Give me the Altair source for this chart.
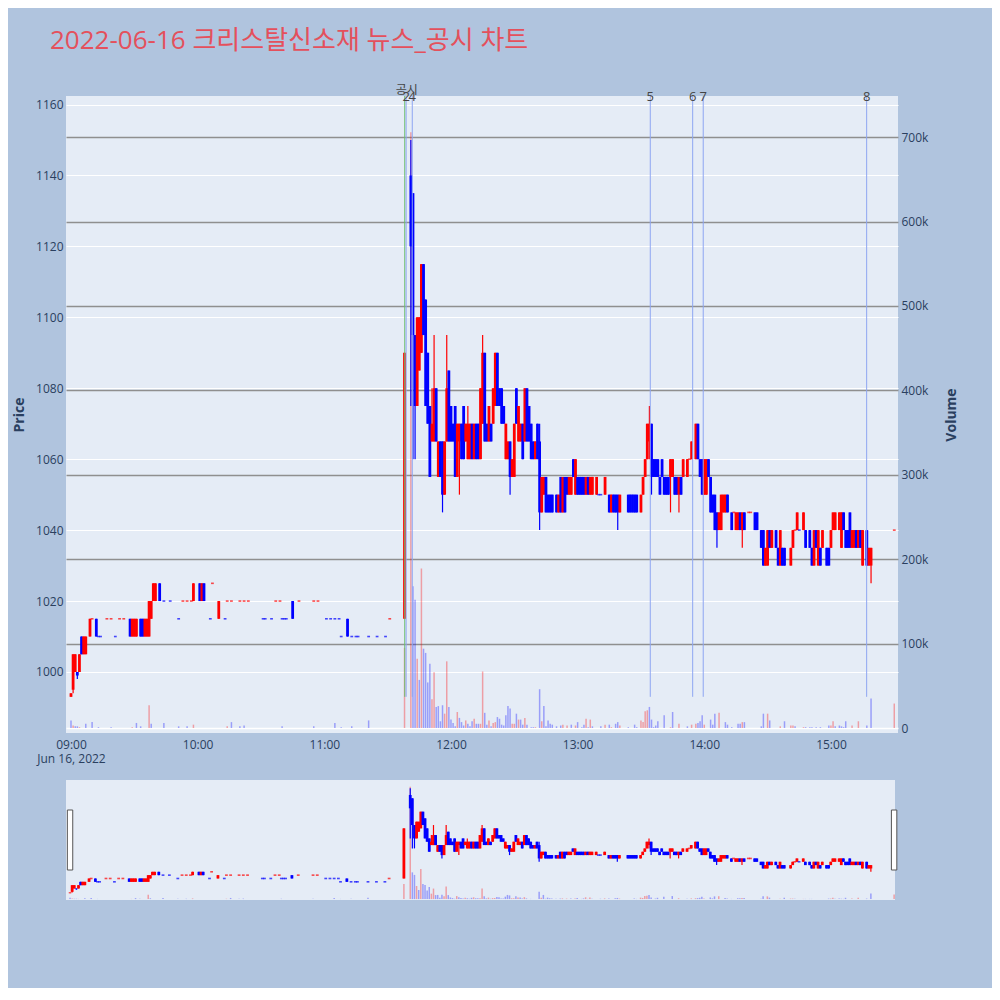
import altair as alt
import pandas as pd

TITLE = "2022-06-16 크리스탈신소재 뉴스_공시 차트"
DAY = (2022, 6, 16)

# (time, open, high, low, close) one-minute candles
candles = [
    ("09:00", 993, 994, 993, 994), ("09:01", 995, 1005, 994, 1005), ("09:02", 1000, 1005, 1000, 1005),
    ("09:03", 1000, 1000, 998, 999), ("09:04", 1000, 1005, 1000, 1005), ("09:05", 1010, 1010, 1005, 1005),
    ("09:06", 1005, 1010, 1005, 1010), ("09:07", 1005, 1010, 1005, 1010), ("09:09", 1010, 1015, 1010, 1015),
    ("09:10", 1015, 1015, 1015, 1015), ("09:12", 1015, 1015, 1010, 1010), ("09:13", 1010, 1010, 1010, 1010),
    ("09:14", 1010, 1010, 1010, 1010), ("09:17", 1015, 1015, 1015, 1015), ("09:19", 1015, 1015, 1015, 1015),
    ("09:21", 1010, 1010, 1010, 1010), ("09:23", 1015, 1015, 1015, 1015), ("09:25", 1015, 1015, 1015, 1015),
    ("09:28", 1015, 1015, 1010, 1010), ("09:29", 1010, 1015, 1010, 1015), ("09:30", 1010, 1015, 1010, 1015),
    ("09:31", 1010, 1015, 1010, 1015), ("09:33", 1015, 1015, 1010, 1010), ("09:34", 1015, 1015, 1010, 1010),
    ("09:35", 1010, 1015, 1010, 1015), ("09:36", 1010, 1015, 1010, 1015), ("09:37", 1010, 1020, 1010, 1020),
    ("09:38", 1015, 1020, 1015, 1020), ("09:39", 1020, 1025, 1020, 1025), ("09:40", 1020, 1025, 1020, 1025),
    ("09:42", 1025, 1025, 1020, 1020), ("09:44", 1020, 1020, 1020, 1020), ("09:47", 1020, 1020, 1020, 1020),
    ("09:51", 1015, 1015, 1015, 1015), ("09:53", 1020, 1020, 1020, 1020), ("09:55", 1020, 1020, 1020, 1020),
    ("09:57", 1020, 1020, 1020, 1020), ("09:58", 1020, 1025, 1020, 1025), ("10:01", 1025, 1025, 1020, 1020),
    ("10:02", 1020, 1025, 1020, 1025), ("10:03", 1025, 1025, 1020, 1020), ("10:06", 1015, 1015, 1015, 1015),
    ("10:07", 1025, 1025, 1025, 1025), ("10:10", 1015, 1020, 1015, 1020), ("10:13", 1015, 1015, 1015, 1015),
    ("10:14", 1020, 1020, 1020, 1020), ("10:16", 1020, 1020, 1020, 1020), ("10:20", 1020, 1020, 1020, 1020),
    ("10:22", 1020, 1020, 1020, 1020), ("10:24", 1020, 1020, 1020, 1020), ("10:31", 1015, 1015, 1015, 1015),
    ("10:32", 1015, 1015, 1015, 1015), ("10:35", 1015, 1015, 1015, 1015), ("10:37", 1020, 1020, 1020, 1020),
    ("10:39", 1020, 1020, 1020, 1020), ("10:40", 1015, 1015, 1015, 1015), ("10:41", 1015, 1015, 1015, 1015),
    ("10:42", 1015, 1015, 1015, 1015), ("10:45", 1020, 1020, 1015, 1015), ("10:48", 1020, 1020, 1020, 1020),
    ("10:55", 1020, 1020, 1020, 1020), ("10:57", 1020, 1020, 1020, 1020), ("11:01", 1015, 1015, 1015, 1015),
    ("11:03", 1015, 1015, 1015, 1015), ("11:05", 1015, 1015, 1015, 1015), ("11:07", 1015, 1015, 1015, 1015),
    ("11:08", 1010, 1010, 1010, 1010), ("11:11", 1015, 1015, 1010, 1010), ("11:13", 1010, 1010, 1010, 1010),
    ("11:15", 1010, 1010, 1010, 1010), ("11:16", 1010, 1010, 1010, 1010), ("11:21", 1010, 1010, 1010, 1010),
    ("11:25", 1010, 1010, 1010, 1010), ("11:29", 1010, 1010, 1010, 1010), ("11:31", 1015, 1015, 1015, 1015),
    ("11:38", 1015, 1090, 1015, 1090),
    ("11:41", 1140, 1150, 1075, 1120), ("11:42", 1135, 1135, 1060, 1095), ("11:43", 1095, 1095, 1060, 1075),
    ("11:44", 1075, 1100, 1075, 1100), ("11:45", 1085, 1100, 1085, 1100), ("11:46", 1090, 1115, 1090, 1115),
    ("11:47", 1115, 1115, 1095, 1095), ("11:48", 1105, 1105, 1075, 1075), ("11:49", 1090, 1090, 1070, 1070),
    ("11:50", 1075, 1075, 1055, 1055), ("11:51", 1065, 1080, 1065, 1070), ("11:52", 1065, 1095, 1065, 1080),
    ("11:53", 1080, 1080, 1065, 1065), ("11:54", 1055, 1065, 1055, 1065), ("11:55", 1065, 1065, 1055, 1055),
    ("11:56", 1065, 1065, 1045, 1050), ("11:57", 1050, 1065, 1050, 1065), ("11:58", 1065, 1095, 1065, 1080),
    ("11:59", 1085, 1085, 1065, 1065), ("12:00", 1075, 1075, 1065, 1065), ("12:01", 1070, 1070, 1065, 1065),
    ("12:02", 1075, 1075, 1055, 1055), ("12:03", 1055, 1070, 1055, 1070), ("12:04", 1065, 1070, 1050, 1070),
    ("12:05", 1070, 1070, 1060, 1060), ("12:06", 1075, 1075, 1060, 1060), ("12:07", 1065, 1070, 1065, 1070),
    ("12:08", 1060, 1075, 1060, 1070), ("12:09", 1060, 1070, 1060, 1070), ("12:10", 1070, 1070, 1060, 1060),
    ("12:11", 1060, 1070, 1060, 1070), ("12:12", 1070, 1070, 1060, 1060), ("12:13", 1070, 1070, 1060, 1060),
    ("12:14", 1060, 1080, 1060, 1080), ("12:15", 1070, 1095, 1070, 1090), ("12:16", 1090, 1090, 1065, 1065),
    ("12:17", 1070, 1070, 1065, 1065), ("12:18", 1065, 1075, 1065, 1075), ("12:19", 1070, 1070, 1065, 1065),
    ("12:20", 1070, 1080, 1070, 1080), ("12:21", 1075, 1090, 1075, 1090), ("12:22", 1090, 1090, 1075, 1075),
    ("12:23", 1080, 1080, 1075, 1075), ("12:24", 1080, 1080, 1070, 1070), ("12:25", 1075, 1075, 1070, 1070),
    ("12:26", 1060, 1070, 1060, 1070), ("12:27", 1060, 1065, 1060, 1065), ("12:28", 1065, 1065, 1050, 1055),
    ("12:29", 1055, 1060, 1055, 1060), ("12:30", 1055, 1070, 1055, 1070), ("12:31", 1080, 1080, 1070, 1070),
    ("12:32", 1065, 1075, 1065, 1075), ("12:33", 1065, 1070, 1065, 1070), ("12:34", 1070, 1070, 1060, 1060),
    ("12:35", 1065, 1080, 1065, 1080), ("12:36", 1080, 1080, 1065, 1065), ("12:37", 1075, 1075, 1065, 1065),
    ("12:38", 1070, 1070, 1060, 1060), ("12:39", 1065, 1065, 1060, 1060), ("12:40", 1060, 1065, 1060, 1065),
    ("12:41", 1070, 1070, 1060, 1060), ("12:42", 1065, 1070, 1040, 1045), ("12:43", 1045, 1055, 1045, 1055),
    ("12:44", 1050, 1055, 1050, 1055), ("12:45", 1055, 1055, 1045, 1045), ("12:46", 1050, 1050, 1045, 1045),
    ("12:47", 1050, 1050, 1045, 1045), ("12:48", 1050, 1050, 1045, 1045), ("12:50", 1050, 1050, 1045, 1045),
    ("12:51", 1045, 1050, 1045, 1050), ("12:52", 1055, 1055, 1045, 1045), ("12:53", 1045, 1055, 1045, 1055),
    ("12:54", 1055, 1055, 1045, 1045), ("12:55", 1055, 1055, 1050, 1050), ("12:56", 1050, 1055, 1050, 1055),
    ("12:57", 1050, 1055, 1050, 1055), ("12:58", 1060, 1060, 1055, 1055), ("12:59", 1050, 1060, 1050, 1060),
    ("13:00", 1055, 1055, 1050, 1050), ("13:01", 1055, 1055, 1050, 1050), ("13:02", 1055, 1055, 1050, 1050),
    ("13:03", 1055, 1055, 1050, 1050), ("13:04", 1050, 1055, 1050, 1055), ("13:05", 1055, 1055, 1050, 1050),
    ("13:06", 1050, 1055, 1050, 1055), ("13:07", 1050, 1055, 1050, 1055), ("13:09", 1050, 1055, 1050, 1055),
    ("13:10", 1050, 1050, 1050, 1050), ("13:11", 1050, 1050, 1050, 1050), ("13:13", 1050, 1055, 1050, 1055),
    ("13:15", 1050, 1050, 1045, 1045), ("13:16", 1045, 1050, 1045, 1050), ("13:17", 1050, 1050, 1045, 1045),
    ("13:18", 1050, 1050, 1045, 1045), ("13:19", 1050, 1050, 1040, 1045), ("13:20", 1045, 1050, 1045, 1050),
    ("13:24", 1050, 1050, 1045, 1045), ("13:25", 1050, 1050, 1045, 1045), ("13:26", 1050, 1050, 1045, 1045),
    ("13:27", 1050, 1050, 1045, 1045), ("13:28", 1050, 1050, 1045, 1045), ("13:30", 1045, 1050, 1045, 1050),
    ("13:31", 1050, 1055, 1050, 1055), ("13:32", 1055, 1060, 1055, 1060), ("13:33", 1060, 1070, 1060, 1070),
    ("13:34", 1065, 1075, 1060, 1070), ("13:35", 1070, 1070, 1050, 1055), ("13:36", 1060, 1060, 1055, 1055),
    ("13:37", 1060, 1060, 1055, 1055), ("13:38", 1060, 1060, 1055, 1055), ("13:39", 1055, 1055, 1050, 1050),
    ("13:40", 1060, 1060, 1055, 1055), ("13:41", 1055, 1055, 1050, 1050), ("13:42", 1055, 1055, 1050, 1050),
    ("13:43", 1055, 1055, 1050, 1050), ("13:44", 1055, 1060, 1045, 1060), ("13:45", 1055, 1060, 1055, 1060),
    ("13:46", 1055, 1055, 1050, 1050), ("13:47", 1055, 1055, 1050, 1050), ("13:48", 1050, 1055, 1045, 1055),
    ("13:49", 1055, 1055, 1050, 1050), ("13:50", 1055, 1060, 1055, 1060), ("13:52", 1055, 1060, 1055, 1060),
    ("13:53", 1060, 1060, 1060, 1060), ("13:54", 1060, 1065, 1060, 1065), ("13:56", 1060, 1070, 1060, 1070),
    ("13:57", 1070, 1070, 1060, 1060), ("13:58", 1060, 1060, 1055, 1055), ("13:59", 1060, 1060, 1050, 1050),
    ("14:00", 1050, 1060, 1050, 1060), ("14:01", 1050, 1060, 1050, 1060), ("14:02", 1060, 1060, 1055, 1055),
    ("14:03", 1055, 1055, 1045, 1045), ("14:04", 1050, 1050, 1045, 1045), ("14:05", 1050, 1050, 1040, 1040),
    ("14:06", 1045, 1045, 1035, 1040), ("14:07", 1040, 1045, 1040, 1045), ("14:08", 1040, 1050, 1040, 1050),
    ("14:09", 1045, 1050, 1045, 1050), ("14:10", 1045, 1050, 1045, 1050), ("14:11", 1050, 1050, 1045, 1045),
    ("14:13", 1045, 1045, 1040, 1040), ("14:14", 1045, 1045, 1045, 1045), ("14:15", 1040, 1045, 1040, 1045),
    ("14:16", 1040, 1045, 1040, 1045), ("14:17", 1045, 1045, 1040, 1040), ("14:18", 1040, 1045, 1035, 1045),
    ("14:19", 1045, 1045, 1040, 1040), ("14:21", 1045, 1045, 1045, 1045), ("14:22", 1045, 1045, 1045, 1045),
    ("14:24", 1045, 1045, 1040, 1040), ("14:25", 1045, 1045, 1040, 1040), ("14:27", 1040, 1040, 1035, 1035),
    ("14:28", 1040, 1040, 1030, 1030), ("14:29", 1030, 1035, 1030, 1035), ("14:30", 1030, 1040, 1030, 1040),
    ("14:31", 1040, 1040, 1035, 1035), ("14:32", 1035, 1040, 1035, 1040), ("14:34", 1040, 1040, 1035, 1035),
    ("14:35", 1035, 1035, 1030, 1030), ("14:36", 1030, 1040, 1030, 1040), ("14:37", 1035, 1035, 1030, 1030),
    ("14:38", 1035, 1035, 1030, 1030), ("14:41", 1030, 1035, 1030, 1035), ("14:42", 1035, 1040, 1035, 1040),
    ("14:43", 1040, 1040, 1040, 1040), ("14:44", 1040, 1045, 1040, 1045), ("14:45", 1040, 1040, 1040, 1040),
    ("14:47", 1040, 1045, 1040, 1045), ("14:48", 1040, 1040, 1035, 1035), ("14:50", 1040, 1040, 1035, 1035),
    ("14:51", 1035, 1035, 1030, 1030), ("14:52", 1030, 1040, 1030, 1040), ("14:53", 1040, 1040, 1035, 1035),
    ("14:54", 1030, 1040, 1030, 1040), ("14:55", 1035, 1035, 1030, 1030), ("14:56", 1035, 1040, 1035, 1040),
    ("14:58", 1035, 1035, 1030, 1030), ("14:59", 1035, 1035, 1030, 1030), ("15:00", 1035, 1040, 1035, 1040),
    ("15:01", 1040, 1045, 1040, 1045), ("15:02", 1040, 1045, 1040, 1045), ("15:04", 1040, 1045, 1040, 1045),
    ("15:05", 1035, 1045, 1035, 1045), ("15:06", 1045, 1045, 1040, 1040), ("15:07", 1040, 1040, 1035, 1035),
    ("15:08", 1040, 1040, 1035, 1035), ("15:09", 1045, 1045, 1035, 1035), ("15:10", 1035, 1040, 1035, 1040),
    ("15:11", 1035, 1040, 1035, 1040), ("15:12", 1040, 1040, 1035, 1035), ("15:13", 1035, 1040, 1035, 1040),
    ("15:14", 1040, 1040, 1035, 1035), ("15:15", 1030, 1040, 1030, 1040), ("15:17", 1040, 1040, 1030, 1030),
    ("15:18", 1030, 1035, 1030, 1035), ("15:19", 1030, 1035, 1025, 1035), ("15:30", 1040, 1040, 1040, 1040),
]

# (time, volume in thousand shares)
volumes = [
    ("09:00", 9), ("09:01", 3), ("09:02", 2), ("09:03", 2), ("09:04", 1), ("09:07", 5), ("09:10", 7),
    ("09:13", 1), ("09:19", 1), ("09:29", 1), ("09:31", 6), ("09:33", 2), ("09:37", 27), ("09:38", 5),
    ("09:44", 6), ("09:51", 2), ("09:55", 2), ("09:58", 4), ("10:14", 2), ("10:16", 7), ("10:20", 2),
    ("10:22", 3), ("10:40", 2), ("10:55", 2), ("11:05", 6), ("11:08", 1), ("11:13", 2), ("11:21", 9),
    ("11:38", 95), ("11:41", 706), ("11:42", 168), ("11:43", 152), ("11:44", 82), ("11:45", 57),
    ("11:46", 189), ("11:47", 94), ("11:48", 89), ("11:49", 54), ("11:50", 76), ("11:51", 34),
    ("11:52", 66), ("11:53", 25), ("11:54", 26), ("11:55", 8), ("11:56", 27), ("11:57", 17),
    ("11:58", 79), ("11:59", 25), ("12:00", 10), ("12:01", 6), ("12:02", 2), ("12:03", 19),
    ("12:04", 12), ("12:05", 7), ("12:06", 3), ("12:07", 9), ("12:08", 5), ("12:09", 2), ("12:10", 8),
    ("12:11", 11), ("12:12", 5), ("12:13", 5), ("12:14", 5), ("12:15", 67), ("12:16", 18), ("12:17", 4),
    ("12:18", 9), ("12:19", 2), ("12:20", 6), ("12:21", 7), ("12:22", 13), ("12:23", 11), ("12:24", 4),
    ("12:25", 3), ("12:26", 15), ("12:27", 26), ("12:28", 23), ("12:29", 5), ("12:30", 5), ("12:31", 17),
    ("12:32", 10), ("12:33", 10), ("12:34", 4), ("12:35", 12), ("12:36", 4), ("12:38", 1), ("12:39", 1),
    ("12:40", 1), ("12:42", 46), ("12:43", 8), ("12:44", 26), ("12:45", 2), ("12:46", 9), ("12:47", 5),
    ("12:48", 4), ("12:50", 2), ("12:52", 3), ("12:53", 4), ("12:55", 3), ("12:57", 4), ("12:59", 3),
    ("13:00", 7), ("13:02", 1), ("13:03", 4), ("13:04", 11), ("13:05", 1), ("13:06", 10), ("13:07", 2),
    ("13:11", 2), ("13:13", 4), ("13:15", 4), ("13:16", 1), ("13:18", 5), ("13:19", 7), ("13:20", 3),
    ("13:24", 1), ("13:27", 4), ("13:28", 1), ("13:30", 9), ("13:31", 7), ("13:32", 20), ("13:33", 21),
    ("13:34", 25), ("13:35", 10), ("13:36", 1), ("13:37", 3), ("13:38", 8), ("13:41", 15), ("13:44", 1),
    ("13:45", 19), ("13:48", 5), ("13:52", 2), ("13:54", 4), ("13:56", 5), ("13:57", 6), ("13:58", 8),
    ("13:59", 15), ("14:00", 4), ("14:03", 10), ("14:04", 4), ("14:05", 17), ("14:07", 18), ("14:10", 7),
    ("14:11", 4), ("14:13", 1), ("14:16", 5), ("14:17", 5), ("14:18", 7), ("14:19", 7), ("14:27", 2),
    ("14:28", 17), ("14:30", 17), ("14:31", 9), ("14:36", 2), ("14:38", 8), ("14:41", 3), ("14:42", 3),
    ("14:43", 2), ("14:47", 1), ("14:48", 1), ("14:50", 1), ("14:51", 1), ("14:53", 1), ("14:55", 1),
    ("14:59", 3), ("15:00", 3), ("15:01", 8), ("15:02", 2), ("15:04", 3), ("15:05", 2), ("15:06", 1),
    ("15:07", 8), ("15:10", 3), ("15:13", 8), ("15:17", 3), ("15:19", 35), ("15:30", 29),
]

# event markers
event_times = ["11:38:06", "11:38:45", "11:41:40", "13:34:25", "13:54:30", "13:59:30", "15:16:55"]
event_labels = ["공시", "2", "4", "5", "6", "7", "8"]
event_kinds = ["공시", "뉴스", "뉴스", "뉴스", "뉴스", "뉴스", "뉴스"]

price_ticks = [1000, 1020, 1040, 1060, 1080, 1100, 1120, 1140, 1160]
volume_ticks = [0, 100000, 200000, 300000, 400000, 500000, 600000, 700000]
hour_ticks = ["09:00:00", "10:00:00", "11:00:00", "12:00:00", "13:00:00", "14:00:00", "15:00:00"]
price_range = [982.8, 1162.4]
volume_range = [-5900, 748800]
main_time_range = ["08:57:38", "15:31:46"]
slider_time_range = ["08:58:05", "15:30:25"]


def dt(hms):
    parts = [int(p) for p in hms.split(":")] + [0]
    return alt.DateTime(year=DAY[0], month=DAY[1], date=DAY[2],
                        hours=parts[0], minutes=parts[1], seconds=parts[2])


def iso(hms):
    if hms.count(":") == 1:
        hms = hms + ":00"
    return "%04d-%02d-%02dT%s" % (DAY[0], DAY[1], DAY[2], hms)


df = pd.DataFrame(candles, columns=["t", "o", "h", "l", "c"])
vol = pd.DataFrame(volumes, columns=["t", "v"])
vol["v"] = vol["v"] * 1000
df = df.merge(vol, on="t", how="left")
df["time"] = df["t"].map(iso)

# candle direction (plotly rule: flat candles compare with previous close)
dirs, prev, inc = [], None, True
for o, c in zip(df["o"], df["c"]):
    if c == o:
        if prev is not None and c != prev:
            inc = c > prev
    else:
        inc = c > o
    dirs.append("up" if inc else "down")
    prev = c
df["dir"] = dirs
df["vdir"] = ["up" if (p == p and c > p) else "down" for c, p in zip(df["c"], df["c"].shift())]
df["flat"] = df["o"] == df["c"]

ev = pd.DataFrame({"time": [iso(t) for t in event_times], "label": event_labels, "kind": event_kinds})
ev["bottom"] = df["l"].min()
ev["top"] = price_range[1]

handles = pd.DataFrame({"time": [df["time"].iloc[0], df["time"].iloc[-1]],
                        "mid": [(price_range[0] + price_range[1]) / 2] * 2})

FONT = "Open Sans, Noto Sans CJK KR, sans-serif"
TXT = "#2a3f5f"
UP, DOWN = "#ff0000", "#0000ff"
color_scale = alt.Scale(domain=["up", "down"], range=[UP, DOWN])

x_axis = alt.Axis(
    values=[dt(h) for h in hour_ticks], format="%H:%M", grid=False, ticks=False, domain=False,
    labelExpr="hours(datum.value) == 9 ? ['09:00', 'Jun 16, 2022'] : timeFormat(datum.value, '%H:%M')",
    labelFont=FONT, labelFontSize=12, labelColor=TXT, labelPadding=6, labelLineHeight=14,
)
price_axis = alt.Axis(
    values=price_ticks, orient="left", format="d", grid=True, gridColor="white", gridWidth=1, ticks=False,
    domain=False, labelFont=FONT, labelFontSize=12, labelColor=TXT, labelPadding=3,
    title="Price", titleFont=FONT, titleFontSize=14, titleFontWeight="bold", titleColor=TXT,
    titlePadding=12, minExtent=28, maxExtent=28,
)
vol_axis = alt.Axis(
    values=volume_ticks, orient="right", grid=True,
    labelExpr="datum.value == 0 ? '0' : format(datum.value, '~s')",
    gridColor=alt.condition("datum.value == 0", alt.value("white"), alt.value("#8f8f8f")),
    gridWidth=1.3, ticks=False, domain=False, labelFont=FONT, labelFontSize=12, labelColor=TXT,
    labelPadding=3, title="Volume", titleFont=FONT, titleFontSize=14, titleFontWeight="bold",
    titleColor=TXT, titleAngle=270, titlePadding=28, minExtent=32, maxExtent=32,
)

main_x = alt.Scale(domain=[dt(t) for t in main_time_range])
slider_x = alt.Scale(domain=[dt(t) for t in slider_time_range])
pscale = alt.Scale(domain=price_range, nice=False, zero=False)
vscale = alt.Scale(domain=volume_range, nice=False, zero=False)


def X(scale, axis):
    return alt.X("time:T", scale=scale, axis=axis, title=None)


def Yp(field, axis):
    return alt.Y(field, type="quantitative", scale=pscale, axis=axis, title="Price")


def build(scale, xaxis, paxis, vaxis, with_events):
    base = alt.Chart(df)
    vol_layer = base.transform_filter("isValid(datum.v)").mark_rule(strokeWidth=1.5, opacity=0.33).encode(
        x=X(scale, xaxis),
        y=alt.Y("v:Q", scale=vscale, axis=vaxis, title="Volume"),
        y2=alt.datum(0),
        color=alt.Color("vdir:N", scale=color_scale, legend=None),
    )
    wick = base.mark_rule(strokeWidth=1.2).encode(
        x=X(scale, xaxis), y=Yp("l", paxis), y2="h:Q",
        color=alt.Color("dir:N", scale=color_scale, legend=None),
    )
    body = base.mark_rule(strokeWidth=2.8).encode(
        x=X(scale, xaxis), y=Yp("o", paxis), y2="c:Q",
        color=alt.Color("dir:N", scale=color_scale, legend=None),
    )
    flat = base.transform_filter("datum.flat").mark_tick(orient="horizontal", size=2.8, thickness=1.6).encode(
        x=X(scale, xaxis), y=Yp("c", paxis),
        color=alt.Color("dir:N", scale=color_scale, legend=None),
    )
    layers = [wick, body, flat]
    if with_events:
        evbase = alt.Chart(ev)
        lines = evbase.mark_rule(strokeWidth=1).encode(
            x=X(scale, xaxis), y=Yp("bottom", paxis), y2="top:Q",
            color=alt.condition("datum.kind == '공시'", alt.value("#6cbf6c"), alt.value("#8ea6f2")),
        )
        nums = evbase.transform_filter("datum.kind == '뉴스'").mark_text(
            font=FONT, fontSize=13, color="#444", baseline="middle", dy=1
        ).encode(x=X(scale, xaxis), y=Yp("top", paxis), text="label:N")
        disc = evbase.transform_filter("datum.kind == '공시'").mark_text(
            font=FONT, fontSize=12, color="#444", baseline="middle", dy=-6, dx=2
        ).encode(x=X(scale, xaxis), y=Yp("top", paxis), text="label:N")
        layers += [lines, nums, disc]
    else:
        hnd = alt.Chart(handles).mark_point(
            shape="M-0.09,-1H0.09V1H-0.09Z", size=3600, filled=True, fill="white",
            stroke="#555", strokeWidth=1, opacity=1,
        ).encode(x=X(scale, xaxis), y=Yp("mid", paxis))
        layers += [hnd]
    price = alt.layer(*layers)
    return alt.layer(vol_layer, price).resolve_scale(y="independent")


main = build(main_x, x_axis, price_axis, vol_axis, True).properties(width=832, height=637)
slider = build(slider_x, None, None, None, False).properties(width=829, height=120)

chart = alt.vconcat(main, slider, spacing=47, bounds="flush").resolve_scale(x="independent").properties(
    title=alt.TitleParams(TITLE, anchor="start", fontSize=26, font=FONT, fontWeight="normal",
                          color="#e4505c", dx=38, offset=30),
    padding={"left": 4, "top": 20, "right": 34, "bottom": 88},
    background="#b0c4de",
).configure_view(fill="#e5ecf6", stroke=None)

chart.save("out.html", embed_options={"renderer": "svg", "actions": False})
